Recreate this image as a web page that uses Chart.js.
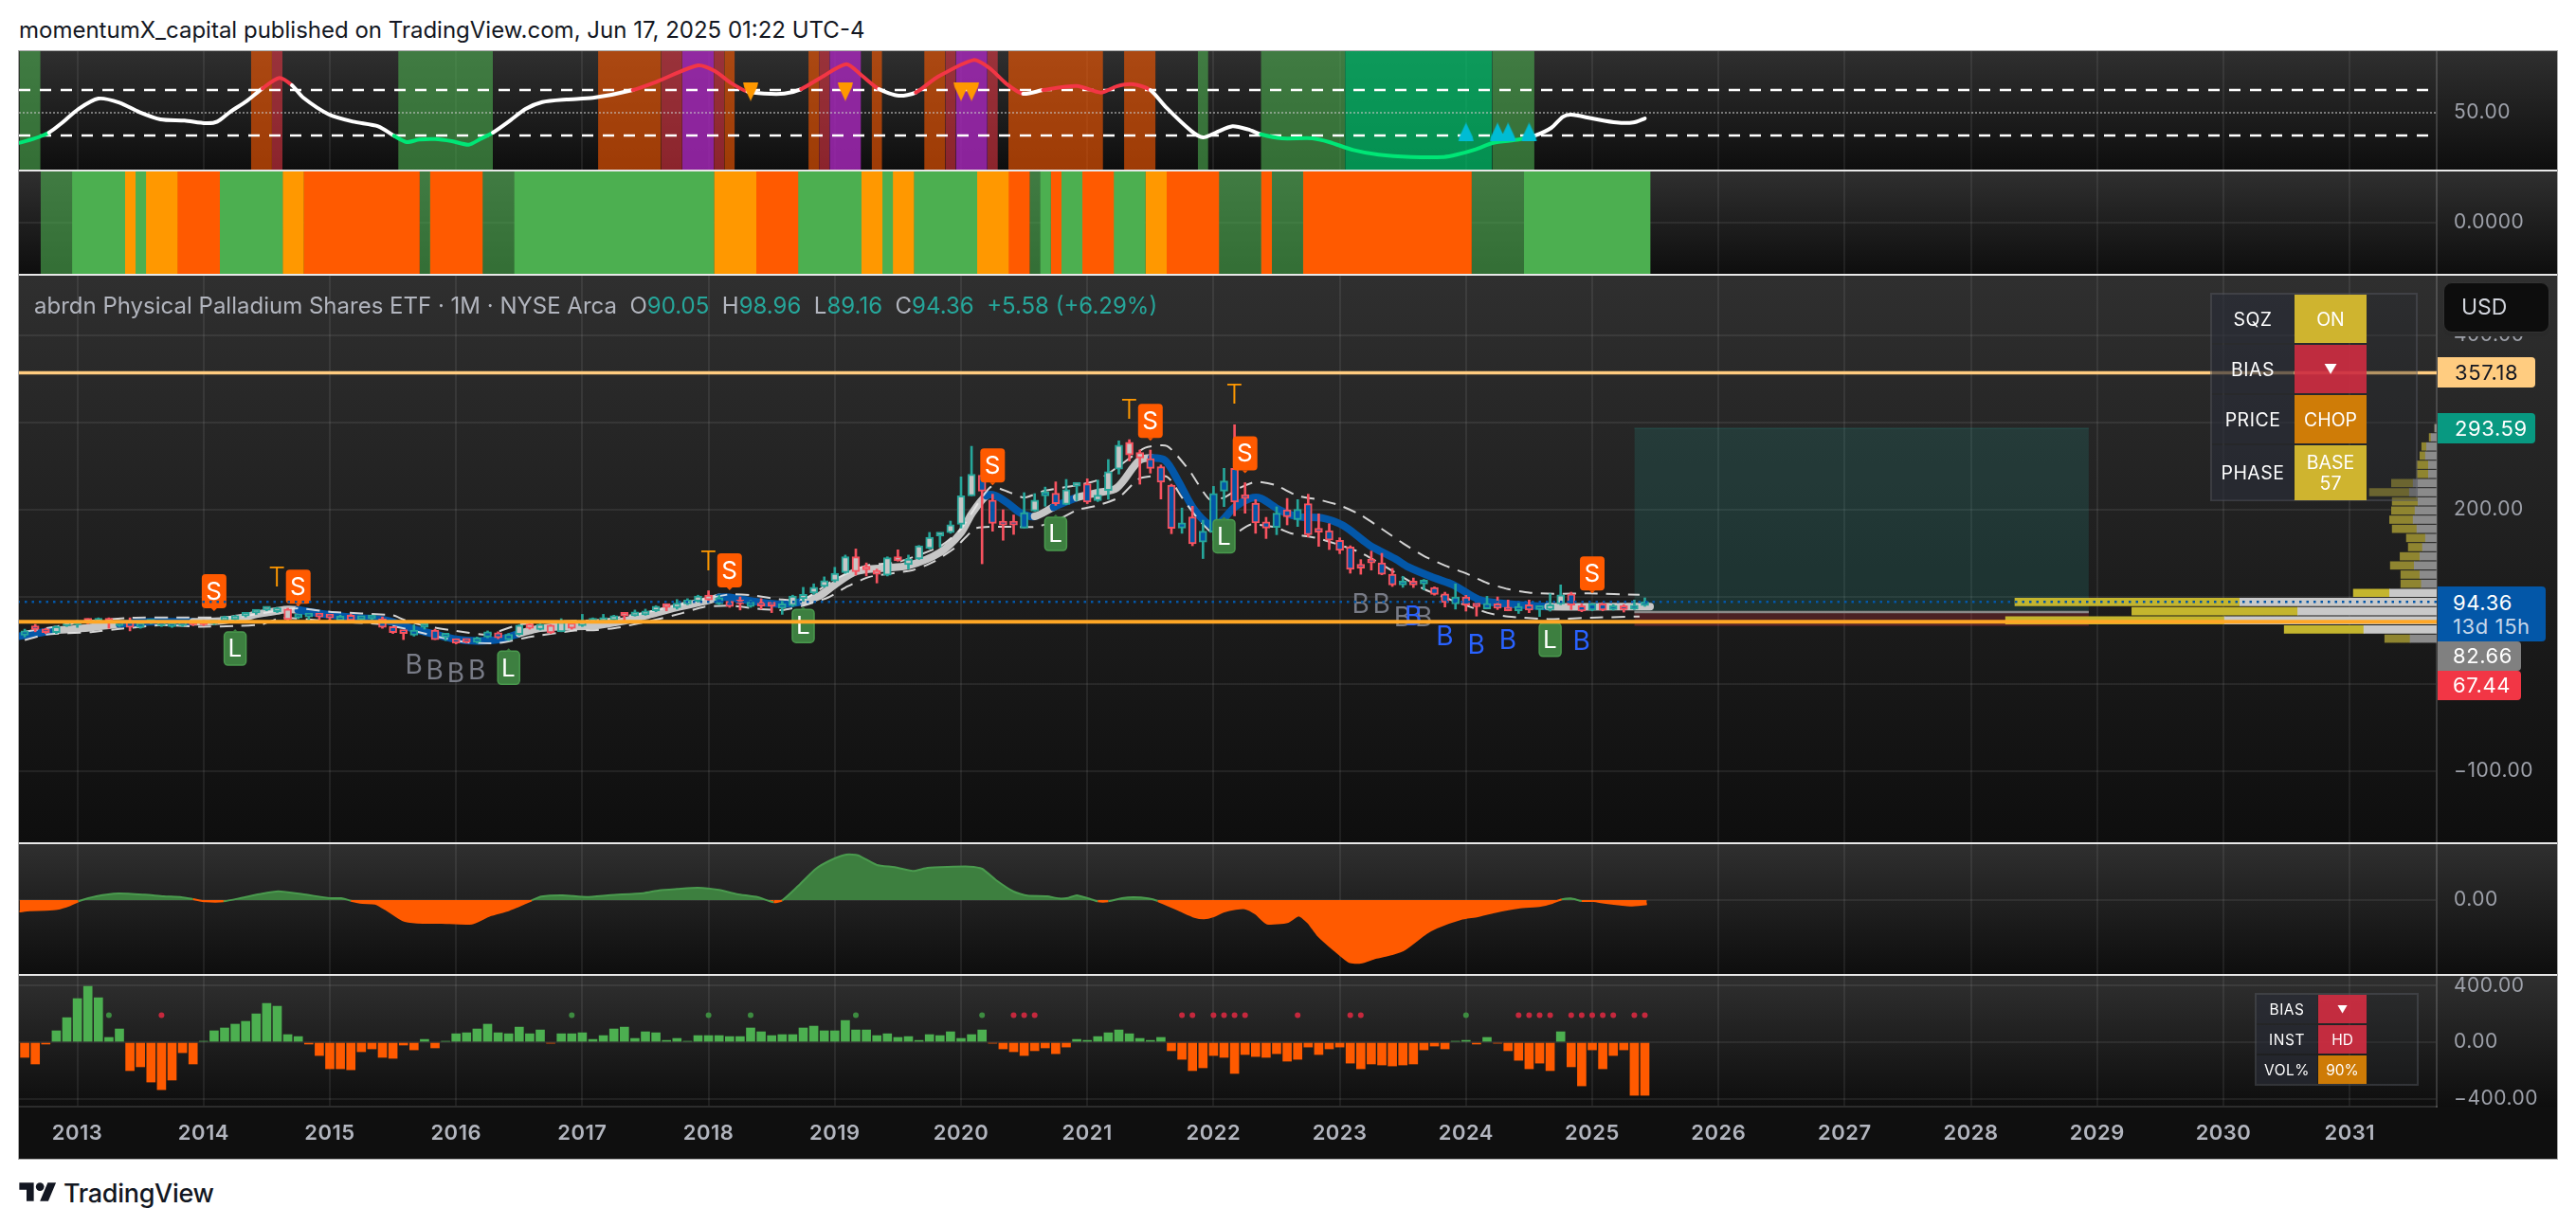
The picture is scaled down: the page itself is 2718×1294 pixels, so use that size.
<!DOCTYPE html>
<html><head><meta charset="utf-8">
<script src="https://cdn.jsdelivr.net/npm/chart.js@4"></script>
<style>
html,body{margin:0;padding:0;background:#fff;width:2718px;height:1294px;overflow:hidden;font-family:Inter,"Noto Sans",sans-serif}
.abs{position:absolute;white-space:nowrap}
.pane{position:absolute;left:20px;width:2678px;background:linear-gradient(#2f2f2f,#0e0e0e)}
canvas{position:absolute;left:20px;display:block}
.tag{position:absolute;left:2572px;font-size:22px;letter-spacing:.6px;padding-left:18px;box-sizing:border-box;border-radius:0 4px 4px 0;line-height:1}
.cell{position:absolute;display:flex;align-items:center;justify-content:center;text-align:center;color:#fff;box-sizing:border-box}
</style></head><body>
<div class="abs" style="left:20px;top:17px;font-size:24px;color:#131722" id="title">momentumX_capital published on TradingView.com, Jun 17, 2025 01:22 UTC-4</div>

<div class="abs" style="left:19px;top:53px;width:2680px;height:1171px;background:#e8e8e8;box-shadow:inset 0 0 0 1px #aaa"></div>
<div class="pane" style="top:54px;height:125px"></div>
<div class="pane" style="top:181px;height:108px"></div>
<div class="pane" style="top:291px;height:598px"></div>
<div class="pane" style="top:891px;height:137px"></div>
<div class="pane" style="top:1030px;height:138px"></div>
<div class="abs" style="left:20px;top:1168px;width:2678px;height:55px;background:#0f0f0f"></div>

<canvas id="c1" width="2678" height="125" style="top:54px"></canvas>
<canvas id="c2" width="2678" height="108" style="top:181px"></canvas>
<canvas id="c3" width="2678" height="598" style="top:291px"></canvas>
<canvas id="c3b" width="2551" height="598" style="top:291px"></canvas>
<canvas id="c4" width="2678" height="137" style="top:891px"></canvas>
<canvas id="c5" width="2678" height="193" style="top:1030px"></canvas>

<div class="abs" style="left:36px;top:308px;font-size:24px;color:#b2b5be" id="legend">abrdn Physical Palladium Shares ETF · 1M · NYSE Arca&nbsp; O<span style="color:#26a69a">90.05</span>&nbsp; H<span style="color:#26a69a">98.96</span>&nbsp; L<span style="color:#26a69a">89.16</span>&nbsp; C<span style="color:#26a69a">94.36</span>&nbsp; <span style="color:#26a69a">+5.58 (+6.29%)</span></div>

<div class="abs" style="left:2578px;top:298px;width:112px;height:53px;background:#0d0d0d;border:1px solid #333;border-radius:9px;box-sizing:border-box;color:#d1d4dc;font-size:23px;line-height:51px;padding-left:18px;box-shadow:0 4px 0 #2a2a2a">USD</div>

<div class="tag" style="top:377px;width:103px;height:32px;line-height:32px;background:#ffcc80;color:#131722">357.18</div>
<div class="tag" style="top:436px;width:103px;height:32px;line-height:32px;background:#089981;color:#fff">293.59</div>
<div class="tag" style="top:619px;width:114px;height:58px;background:#0357a8;color:#fff;padding-top:6px;padding-left:16px"><div style="height:25px">94.36</div><div style="color:#c5d6ea">13d 15h</div></div>
<div class="tag" style="top:677px;width:88px;height:31px;line-height:31px;padding-left:16px;background:#808080;color:#fff">82.66</div>
<div class="tag" style="top:708px;width:88px;height:31px;line-height:31px;padding-left:16px;background:#f23645;color:#fff">67.44</div>

<div class="abs" style="left:2332px;top:309px;width:219px;height:220px;border:2px solid rgba(120,123,134,.28);box-sizing:border-box;background:rgba(40,42,48,.35)"></div>
<div class="cell" style="left:2334px;top:311px;width:86px;height:51px;font-size:19.5px;letter-spacing:.5px;background:rgba(42,46,57,.5)">SQZ</div>
<div class="cell" style="left:2421px;top:311px;width:76px;height:51px;font-size:19.5px;background:rgba(214,186,48,.96)">ON</div>
<div class="cell" style="left:2334px;top:364px;width:86px;height:51px;font-size:19.5px;letter-spacing:.5px;background:rgba(42,46,57,.5)">BIAS</div>
<div class="cell" style="left:2421px;top:364px;width:76px;height:51px;font-size:14px;background:rgba(213,46,66,.88)">▼</div>
<div class="cell" style="left:2334px;top:417px;width:86px;height:51px;font-size:19.5px;letter-spacing:.5px;background:rgba(42,46,57,.5)">PRICE</div>
<div class="cell" style="left:2421px;top:417px;width:76px;height:51px;font-size:19.5px;background:rgba(214,128,6,.96)">CHOP</div>
<div class="cell" style="left:2334px;top:470px;width:86px;height:58px;font-size:19.5px;letter-spacing:.5px;background:rgba(42,46,57,.5)">PHASE</div>
<div class="cell" style="left:2421px;top:470px;width:76px;height:58px;font-size:19.5px;line-height:22px;background:rgba(214,186,48,.96)">BASE<br>57</div>

<div class="abs" style="left:2379px;top:1048px;width:173px;height:98px;border:2px solid rgba(120,123,134,.28);box-sizing:border-box;background:rgba(40,42,48,.3)"></div>
<div class="cell" style="left:2381px;top:1050px;width:64px;height:30px;font-size:15.5px;letter-spacing:.5px;background:rgba(42,46,57,.5)">BIAS</div>
<div class="cell" style="left:2446px;top:1050px;width:51px;height:30px;font-size:11px;background:rgba(213,46,66,.9)">▼</div>
<div class="cell" style="left:2381px;top:1082px;width:64px;height:30px;font-size:15.5px;letter-spacing:.5px;background:rgba(42,46,57,.5)">INST</div>
<div class="cell" style="left:2446px;top:1082px;width:51px;height:30px;font-size:15.5px;background:rgba(213,46,66,.9)">HD</div>
<div class="cell" style="left:2381px;top:1114px;width:64px;height:30px;font-size:15.5px;letter-spacing:.5px;background:rgba(42,46,57,.5)">VOL%</div>
<div class="cell" style="left:2446px;top:1114px;width:51px;height:30px;font-size:15.5px;background:rgba(214,128,6,.96)">90%</div>

<svg class="abs" style="left:20px;top:1246px" width="40" height="24" viewBox="0 2 36 22"><path fill="#131722" d="M14 22H7V11H0V4h14v18zM28 22h-8l7.5-18h8L28 22z"/><circle fill="#131722" cx="20" cy="8" r="4"/></svg>
<div class="abs" style="left:67px;top:1243px;font-size:27px;font-weight:500;color:#131722;letter-spacing:-.3px">TradingView</div>

<script>
// ---------- shared time axis ----------
const firstBar = -5;
const yearLabels = ['2013','2014','2015','2016','2017','2018','2019','2020','2021','2022','2023','2024','2025','2026','2027','2028','2029','2030','2031'];
const yearTicks = [0,12,24,36,48,60,72,84,96,108,120,132,144,156,168,180,192,204,216];

// ---------- main pane: monthly OHLC, Aug 2012 .. Jun 2025 ----------
const candleOpen = [56,64,63,59,67,68,73,71,75,67,72,65,70,67,66,67,70,72,69,73,74,78,81.5,85,83,86,76,77,78,77,73,79,74,75,75,66,59,56,65,62,54,52,49,48,54,59,51,
57,69,62.5,67.6,60,70,67,71,72,73.4,79.5,78.5,79.5,84,89,87.5,92,95,102,92,95,93,89,94,91,87,90,98,104.5,112,118.3,127.7,146,132,127,124.8,146,137,143.5,155.6,170,173.7,
183.3,216,239.5,211,183,183,179,198.5,216,219,206,227,229.7,210.5,222,246.7,277.5,265.6,258.7,249.3,228.3,179,191.7,163,174.3,221.4,247.5,214,207.6,186.2,179.7,200,188.8,207,176,176,165,
157.2,133.6,139.5,139,126,113.8,115,114.8,110.9,103.6,92,100,89,86.2,92,86,84,90.9,85.5,85.5,92,103.6,89.8,84.8,92,85.5,89.8,86,90.05];
const candleHigh = [63,68.5,64,67,70,73,75,76,76,72,76,71,72,72,71,72,72,73,72,78,79,82,85,86,88,87,78,78,79,78,79,80,76,78,77,66,59,68,70,63,57,52,50,54,61,60,58,
68,70,70,68,75,71,80,76,80,79,80,85,86,90,92,97,98,102,107,102,95,100,96,98,93,95,102,111,115,123,134,148,155,139,132,146,154,148,159,174,172,187,
237.7,272.8,240,217.8,200,194,219.6,218.5,226,232,234.8,231,235.5,234,257.6,279,280.4,268.5,268.5,251.4,229.3,202,204,188,226.8,247.5,297.5,231,211.6,191.3,203.3,213,211.6,217.8,195.3,184,167.8,
158.7,142.8,152.5,150,132.6,123.5,121.7,120,111.5,105.4,115,101.8,92,100.7,100,96.4,93.5,96.4,89.5,103.6,113.8,105.4,92,92.7,93.5,91.3,91.3,96.4,98.96];
const candleLow = [54,60,58,58,66,65,69,70,64,66,61,64,69,66,65,66,67,67,68,72,73,77,80,84,82,73,75,73,74,72,72,72,72,74,64,58,51,55,63,51,50,46,47,47,53,52,50,
56,63,62,58,60,63,66,70,70,72,72,78,79,83,84,86,91,94,96,91,88,85,88,86,82,80,89,95,103,111,117,127,125,124,116,124,141,132,143,155,157,173,
179,216,138,175.4,165,171.7,179,198,204,205,206,210.5,207,209.4,212,241,256,229.3,242,212.3,172.5,173,158.7,144,165,203.6,193,196,173,167,171.4,182.6,180.8,168.8,158,154.3,149.6,
127.2,126,130.8,125.4,112,111,110.8,108,102,88.4,86,83.7,78,86.2,85.5,84,81,81.9,77.5,83.7,91,85.5,83,84,84,84.8,82.6,85.5,89.16];
const candleClose = [61,62.5,59,66,69,70,71,74,71,71,65,70,71,70,70,71,68,68,71,76,78,81,82.5,85.5,87,74,77,77.5,77,76,78,73,75,76,65,59,58,62,65.5,51,54.5,47,48,53,60,53,57,
67.5,64,68.6,58.9,71,64,73,74,76,78.5,78,80.6,83.5,89.3,88,93,96,101,96.6,99,89,92,94,89.5,89.5,92,101,103,111,118.7,127,146,129,131,126,145,141.5,143.5,158.5,168.3,172,182.8,
216,240.6,221.4,184.4,182.5,182.5,196.7,211,216.7,207,223,227.5,208.7,216.7,243.8,274,263,259.4,247.5,231.5,178.6,185,161,175.4,218.8,233,208.7,213,184.8,179,196,192,200.4,171.4,174.3,165,153.3,
131.5,133,139,126,113.8,118,113.8,115.5,102.9,93.5,100,90.6,88.6,92.7,87,84,89,84.8,89,91,102.5,90.6,83.7,92,84.8,89.8,85.5,88.4,94.36];

const greyRegimes = [[-2,3],[11,20],[42,60],[68,85],[91,91],[94,95],[97,101],[140,141]];

const ribbonBars = [-5.5,-4,-3,-2,-1,0,1,2,3,4,5,6,7,8,9,10,11,12,13,14,15,16,17,18,19,20,21,22,23,24,25,26,27,28,29,30,31,32,33,34,35,36,37,38,39,40,41,42,43,44,46,49,52,54,57,60,61,62,64,67,69,70.5,72,74,76.5,79,82,84,85,86.4,87.3,88.5,89.7,91,92.8,95,97,98.8,100.9,102.1,103.4,104.6,106.1,107.6,108.5,110,111.5,112.5,114.3,116,118.3,120.3,122.2,123,125.3,126.5,129,130.8,133.2,135.3,139.8,149.5];
const ribbonValues = [55,58,60,62,62.5,63.5,64.5,66,67.5,69,70,71,71.5,71.5,71.5,71.5,71.5,71.5,72,73,75,77,80,82,84,85.5,85,83,81,79.5,78,76.5,75.5,75,74,71,67,63,60,57,54,51.5,50,49.5,50,51,54,58,61.4,64,65.8,66.9,72.5,78.5,88,96,99.5,99.5,95.5,91.5,95,101,114,129,133,136,151,173.7,195,216,216,207,196,192.4,203,214,219.6,225,256,259.4,256.5,234,201.4,183,184,203,213,213,199.6,192,190.6,182,165,158,143.5,134.4,121.7,113.8,97,92.7,89,89];

const upperBars = [-5,-2,1,5,10,15,19,21,24,30,31,33,36,39,42,46,50,54,58,62,64,67,69,72,75,78,82,84,86.8,88.6,90,92,95,97,99,101.5,103.6,105.7,107.6,109,110.5,112,113.8,116,118,120,122,124,126,128,130,132,134,136,138,140.5,143.6,148.5];
const upperValues = [60,66,72,76,76.5,77,84,87,83,78.8,74,66.8,61,57,68,72,74,82,93,103,102,97,97,120,136,140,158,178,226,220,214,222,228,234,250,271,273,245,212,214,225,232,228.6,216,211.6,205,194,178,161.6,147,136,127,116,109,105,103.6,104,102.5];
const lowerBars = [-5,-3,1.3,3.4,8,11.6,15.5,17.6,19.4,24,29,31,34,37,40,43,47.3,49.4,51.5,55.4,57.5,59.6,62,65,67,69,71.4,73.2,75.3,79.5,81.5,83.5,85.5,91,93,95,97,99,101,103.6,105,106.5,108,110,111.5,113.8,115.5,118,122,128,134,136,139.8,144.5,148.5];
const lowerValues = [50.6,56.7,59.6,62.5,67.6,65.8,66.8,68.7,76,72,68.7,64,55,48,47,54,61.4,62,65,75,81.4,88.6,90,86,85,90,99.5,112,123,131,141,157,179,180.4,187,199.6,205,214,236,237.7,214,190,172.5,172.5,183,180,172.5,167,150.7,109,81.9,77.5,74.6,76.4,77.5];

const sellBars = [13,21,62,87,102,111,144];
const sellTips = [83.7,89,107.6,228,279,242,104];
const longBars = [15,41,69,93,109,140];
const longTips = [63,41,89,194.5,192,73];
const topBars = [19,60,100,110];
const topValues = [121,139.7,314,331];
const greyBBars = [32,34,36,38,122,124,126,128];
const greyBValues = [20.6,15,11,15,91,91,76,75];
const blueBBars = [127,130,133,136,143];
const blueBValues = [77,54,44,49,48];

const resistance = 357.18, lastPrice = 94.36, supportLine = 71.6;
const targetPrice = 293.59, entryPrice = 82.66, stopPrice = 67.44;
const positionBars = [148,191.2];
const priceTicks = [-100,0,100,200,300,400];

// ---------- volume profile (right-anchored) ----------
const profilePrices = [293.6,283.1,272.6,262.1,251.6,241.1,230.6,220.1,209.6,199.1,188.6,178.1,167.6,157.1,146.6,136.1,125.6,115.1,104.6,94.1,83.6,73.1,62.6,52.1];
const profileGrey = [5,15,27,30,22,22,63,73,50,58,63,53,30,38,45,60,45,41,126,527,372,568,195,71];
const profileGold = [0,5,13,15,31,31,58,107,69,63,63,66,51,38,53,64,51,55,97,602,444,586,213,68];

// ---------- top oscillator pane ----------
const oscBars = [-5.5,-4.2,-2.7,-1.5,0.1,2,4,5.9,7.9,10.2,12.2,13.3,14.5,16.1,17.6,19.2,20.4,21.5,23.9,26.2,28.6,30.1,31.3,32.5,34,35.6,37.2,38.3,39.5,41,42.6,44.2,46.5,49,52.8,55.1,59,60.6,62.1,63.7,65.3,67.2,68.8,70.7,73.1,74.6,76.2,78.1,79.7,81.7,85.2,86.7,88.3,89.9,91.8,95,97.3,98.8,100.4,102,103.5,105.9,107,108.2,109.8,111.3,112.5,114.5,117.4,119,121.3,123.7,126.8,129.9,131.1,133,134.6,137,138.5,140.1,141.2,142,144,146.3,147.9,149];
const oscValues = [23.6,26.9,32.5,40.8,53.3,62.5,58.9,50.6,44.2,43.1,40.8,42.2,50.6,60.3,71.4,80.6,74.2,63.1,48.6,42.2,38.1,29.7,24.2,26.4,26.9,25,21.9,26.9,32.5,42.2,53.3,59.4,61.7,63.1,70,77.5,91.7,86.7,76.4,68.6,66.9,66.9,70.8,81.1,92.8,82.5,70.8,65,67.8,81.1,96.4,89.4,75.6,66.7,70,73.6,67.8,73.3,75,70,54.7,33.9,28.3,32.5,38.1,35.3,31.1,27.5,27.5,24.2,17.2,13.1,11.1,11.1,13.1,18.1,23.6,26.4,29.7,36.7,46.4,48.3,45,41.4,41.4,45];
const bandRuns = [['g',-5,-4],['o',17,18],['r',19,19],['g',31,39],['o',50,55],['r',56,57],['p',58,60],['r',61,61],['o',62,62],['o',70,70],['r',71,71],['p',72,74],['o',76,76],['o',81,82],['r',83,83],['p',84,86],['r',87,87],['o',89,97],['o',100,102],['g',107,107],['g',113,120],['G',121,134],['g',135,138]];
const sellArrowBars = [64,73,84,85];
const sellArrowValue = 68.75;
const buyArrowBars = [132,135,136,138];
const buyArrowValue = 33;

// ---------- squeeze pane ----------
const squeezeRuns = [['d',-3,-1],['g',0,4],['y',5,5],['g',6,6],['y',7,9],['o',10,13],['g',14,19],['y',20,21],['o',22,32],['d',33,33],['o',34,38],['d',39,41],['g',42,60],['y',61,64],['o',65,68],['g',69,74],['y',75,76],['g',77,77],['y',78,79],['g',80,85],['y',86,88],['o',89,90],['d',91,91],['g',92,92],['o',93,93],['g',94,95],['o',96,98],['g',99,101],['y',102,103],['o',104,108],['d',109,112],['o',113,113],['d',114,116],['o',117,132],['d',133,137],['g',138,149]];

// ---------- area pane ----------
const areaBars = [-5.5,-4.5,-3,-1.9,-0.7,0.1,1.8,3.9,6.4,8.2,9.9,11,12.2,13.9,15.6,17.3,19.1,21.4,24,25.1,26,27.1,28.3,29.4,30.9,32.3,34.6,37.5,39.2,40.9,41.8,43.2,44.1,46.1,48.4,50.7,53.8,55.3,57,59,61,62.7,64.7,66.2,67,68.5,70.2,71.6,73.1,74.2,76,77.7,79.4,80.8,82.7,84.8,86,87.3,89,90.3,92.2,93.3,94.2,95,96.1,97,98,99.3,100.4,101.8,102.7,104.8,106.2,107.1,108,109,110.1,111,112,113.1,115.1,116.1,117,117.9,119.5,120.9,122,123.4,125,126.2,128.2,129.2,131.5,133.1,134.7,137,139.1,140.2,141.1,142,143,144.1,145.3,147.6,149.2];
const areaValues = [-12,-10.7,-10.3,-9.3,-5.3,-1.3,4,7,5.7,4,3,1,-1.3,-1.3,2.3,6.3,9.3,6.3,2,2,-0.7,-3,-3.7,-10.3,-21,-23.7,-24,-24.7,-16.3,-11,-7,-0.3,3.7,5,3.3,5.3,7.3,10.3,11.7,13,10.7,6.3,3,-2.3,-0.3,14.7,33,42,48,47.3,37,34.7,30.7,34,35,35.3,33,21.3,9,4.7,4,1.7,2.3,5,1.7,-1.3,-1.3,2,3,1.7,-1,-11,-17.7,-19.3,-17,-12,-9.3,-8.7,-14.3,-24.7,-23,-16.3,-23.7,-37,-53,-65.3,-66,-61,-57,-52,-35.3,-29,-20,-17,-12.7,-8,-6,-3,0.7,1.7,-1,-1,-3,-5.7,-4.3];

// ---------- histogram pane ----------
const histValues = [-107,-154,-13,81,174,309,396,315,34,94,-201,-174,-282,-336,-268,-74,-154,7,81,101,128,148,201,275,255,54,40,-13,-94,-188,-188,-195,-67,-47,-107,-114,-20,-54,20,-40,7,60,67,94,128,67,60,107,60,87,-7,60,60,67,20,47,94,107,27,74,67,13,27,7,47,47,47,40,40,101,74,47,54,54,101,114,81,81,154,87,87,47,60,34,40,13,54,47,74,27,54,87,-7,-47,-67,-94,-60,-40,-81,-34,20,13,40,67,87,60,27,13,34,-60,-121,-201,-181,-94,-107,-221,-87,-101,-107,-81,-134,-121,-34,-87,-47,-34,-148,-188,-154,-161,-168,-161,-154,-54,-27,-47,7,13,-13,34,-7,-60,-128,-188,-148,-201,74,-174,-309,-54,-188,-94,-54,-376,-376];
const dotLevel = 192;
const greenDotBars = [3,47,60,64,74,86,132];
const redDotBars = [8,89,90,91,105,106,108,109,110,111,116,121,122,137,138,139,140,142,143,144,145,146,148,149];

// ---------- helpers ----------
const TEAL='#26a69a', RED='#f7525f', BLUE='#0357a8', GREY='#c6c6c6', ORANGE='#ff5a00';
const barsIdx = candleOpen.map((_,k)=>firstBar+k);
const isGrey = i => greyRegimes.some(r=>i>=r[0]&&i<=r[1]);
const pts = (xs,ys)=>xs.map((x,k)=>({x,y:ys[k]}));
const gridCol='rgba(255,255,255,.075)';
const xMin=-5.55, xMax=224.27;

Chart.register({id:'spacing',beforeDraw(ch){ch.ctx.letterSpacing='0.5px';}});

function xAxis(showLabels){
  return {type:'linear',min:xMin,max:xMax,offset:false,
    grid:{color:gridCol,lineWidth:2,drawTicks:false,tickLength:0,offset:false},
    border:{display:showLabels,color:'#2c2c2c',width:2},
    afterBuildTicks:s=>{s.ticks=yearTicks.map(v=>({value:v}));},
    afterFit:s=>{s.height=showLabels?55:0;s.paddingLeft=0;s.paddingRight=0;},
    ticks:{display:showLabels,autoSkip:false,maxRotation:0,minRotation:0,padding:15,color:'#b2b5be',font:{family:'Inter',size:22,weight:'600'},
      callback:v=>yearLabels[yearTicks.indexOf(v)]}};
}
function yAxis(min,max,ticks,dec,showGrid){
  return {type:'linear',position:'right',min,max,
    grid:{color:ctx=>showGrid?gridCol:'transparent',lineWidth:2,drawTicks:false,tickLength:0},
    border:{display:true,color:'rgba(255,255,255,.16)',width:2},
    afterBuildTicks:s=>{s.ticks=ticks.map(v=>({value:v}));},
    afterFit:s=>{s.width=127;s.paddingTop=0;s.paddingBottom=0;},
    ticks:{padding:18,color:'#9ea1aa',autoSkip:false,font:{family:'Inter',size:21},
      callback:v=>v.toFixed(dec).replace('-','\u2212')}};
}
const base={responsive:false,animation:false,events:[],layout:{padding:0,autoPadding:false},plugins:{legend:{display:false},tooltip:{enabled:false}}};
function mk(id,datasets,y,xs,extra){
  return new Chart(document.getElementById(id),{type:'bar',data:{datasets},plugins:extra||[],
    options:{...base,scales:{x:xs||xAxis(false),y}}});
}
function spanLine(v,col,w,dash,order){
  return {type:'line',data:[{x:xMin,y:v},{x:xMax,y:v}],borderColor:col,borderWidth:w,borderDash:dash||[],pointRadius:0,order:order||1};
}
// one filled block for every run of same-state months
function runBlocks(runs,colors,lo,hi,order,overlap){
  return runs.map(r=>({type:'line',data:[{x:Math.max(r[1]-.5,xMin),y:lo},{x:r[2]+.5+(overlap||0),y:lo}],fill:{target:{value:hi},above:colors[r[0]],below:colors[r[0]]},borderWidth:0,pointRadius:0,order:order}));
}
function arrow(down,col){
  const c=document.createElement('canvas');c.width=18;c.height=20;const g=c.getContext('2d');g.fillStyle=col;g.beginPath();
  if(down){g.moveTo(1,0);g.lineTo(17,0);g.lineTo(16,5);g.lineTo(9,20);g.lineTo(2,5);}
  else{g.moveTo(9,0);g.lineTo(16,15);g.lineTo(17,20);g.lineTo(1,20);g.lineTo(2,15);}
  g.closePath();g.fill();return c;
}

// ---------- pane 1 ----------
const bandCols={g:'rgba(76,175,80,.6)',o:'rgba(255,90,0,.6)',r:'rgba(242,54,69,.55)',p:'rgba(170,40,190,.8)',G:'rgba(0,200,110,.7)'};
mk('c1',[
  ...runBlocks(bandRuns,bandCols,0,104.2,9),
  spanLine(70,'#fff',2.5,[12,10],5),spanLine(30,'#fff',2.5,[12,10],5),spanLine(50,'rgba(200,200,200,.55)',2,[2,2],6),
  {type:'line',data:pts(oscBars,oscValues),borderWidth:4,pointRadius:0,tension:.25,order:3,borderCapStyle:'round',borderJoinStyle:'round',
    segment:{borderColor:c=>{const m=(c.p0.parsed.y+c.p1.parsed.y)/2;return m>=70?'#f23645':m<=30?'#00e676':'#ffffff';}}},
  {type:'line',showLine:false,data:sellArrowBars.map(x=>({x,y:sellArrowValue})),pointStyle:arrow(true,'#ff9800'),pointRadius:10,order:1},
  {type:'line',showLine:false,data:buyArrowBars.map(x=>({x,y:buyArrowValue})),pointStyle:arrow(false,'#00bcd4'),pointRadius:10,order:1}
],yAxis(0,104.2,[50],2,false));

// ---------- pane 2 ----------
mk('c2',runBlocks(squeezeRuns,{d:'rgba(76,175,80,.6)',g:'#4caf50',y:'#ff9800',o:ORANGE},-1,1,1,.05),yAxis(-1,1,[0],4,true));

// ---------- pane 3 ----------
const tagPlugin={id:'tags',afterDatasetsDraw(ch){
  const g=ch.ctx,X=ch.scales.x,Y=ch.scales.y;g.save();g.textAlign='center';g.textBaseline='middle';
  const font=(s,w)=>`${w||400} ${s}px Inter`;
  const label=(list,vals,col,w,h,txt,up,edge)=>{list.forEach((b,k)=>{
    const px=X.getPixelForValue(b),tip=Y.getPixelForValue(vals[k]);
    const top=up?tip+3:tip-3-h;
    g.fillStyle=col;g.beginPath();g.roundRect(px-w/2,top,w,h,4);g.fill();
    if(edge){g.strokeStyle=edge;g.lineWidth=1.5;g.stroke();}
    g.beginPath();
    if(up){g.moveTo(px-3,tip+3);g.lineTo(px,tip);g.lineTo(px+3,tip+3);}
    else{g.moveTo(px-3,tip-3);g.lineTo(px,tip);g.lineTo(px+3,tip-3);}
    g.fill();g.fillStyle='#fff';g.font=font(26);g.fillText(txt,px,top+h/2+1);});};
  const letter=(list,vals,col,txt,w)=>{g.font=font(28,w);g.fillStyle=col;list.forEach((b,k)=>g.fillText(txt,X.getPixelForValue(b),Y.getPixelForValue(vals[k])));};
  letter(greyBBars,greyBValues,'#787b86','B');
  letter(blueBBars,blueBValues,'#2962ff','B');
  letter(topBars,topValues,'#ff9800','T',300);
  label(sellBars,sellTips,ORANGE,26,36,'S',false);
  label(longBars,longTips,'#3d7f40',23,35,'L',true,'#4a9a4e');
  g.restore();
}};
const segCol=c=>isGrey(Math.round(c.p0.parsed.x))?GREY:BLUE;
mk('c3',[
  {type:'line',data:[{x:positionBars[0],y:targetPrice},{x:positionBars[1],y:targetPrice}],fill:{target:{value:entryPrice},above:'rgba(38,166,154,.17)',below:'rgba(38,166,154,.17)'},borderColor:'rgba(38,166,154,.12)',borderWidth:2,pointRadius:0,order:12},
  {type:'line',data:[{x:positionBars[0],y:stopPrice},{x:positionBars[1],y:stopPrice}],fill:{target:{value:entryPrice},above:'rgba(242,54,69,.22)',below:'rgba(242,54,69,.22)'},borderColor:'rgba(242,54,69,.15)',borderWidth:2,pointRadius:0,order:12},
  {type:'line',data:[{x:positionBars[0],y:entryPrice},{x:positionBars[1],y:entryPrice}],borderColor:'#8a8a8a',borderWidth:2.5,pointRadius:0,order:11},
  {type:'line',data:pts(ribbonBars,ribbonValues),borderWidth:8,pointRadius:0,tension:.3,borderCapStyle:'round',borderJoinStyle:'round',order:8,segment:{borderColor:segCol}},
  {type:'line',data:pts(upperBars,upperValues),borderColor:'rgba(232,232,232,.9)',borderWidth:2,borderDash:[14,9],pointRadius:0,tension:.2,order:7},
  {type:'line',data:pts(lowerBars,lowerValues),borderColor:'rgba(232,232,232,.9)',borderWidth:2,borderDash:[14,9],pointRadius:0,tension:.2,order:7},
  {data:barsIdx.map((x,k)=>({x,y:[candleLow[k],candleHigh[k]]})),backgroundColor:barsIdx.map((x,k)=>candleClose[k]>=candleOpen[k]?TEAL:RED),barThickness:2,grouped:false,order:5},
  {data:barsIdx.map((x,k)=>({x,y:[candleOpen[k],candleClose[k]]})),backgroundColor:barsIdx.map(x=>isGrey(x)?GREY:BLUE),borderColor:barsIdx.map((x,k)=>candleClose[k]>=candleOpen[k]?TEAL:RED),borderWidth:2,borderSkipped:false,barThickness:8,grouped:false,minBarLength:4,order:4}
],yAxis(-181.5,468.5,priceTicks,2,true),xAxis(false),[tagPlugin]);

// ---------- volume profile + horizontal levels overlay ----------
const vpMax=6472;
const vpDim=k=>!(k>=18&&k<=22);
new Chart(document.getElementById('c3b'),{type:'bar',data:{datasets:[
  {data:profilePrices.map((p,k)=>({y:p,x:[0,profileGrey[k]]})),backgroundColor:profilePrices.map((p,k)=>vpDim(k)?'#8b8b8b':'#c9c9c9'),barThickness:8,grouped:false,order:5},
  {data:profilePrices.map((p,k)=>({y:p,x:[profileGrey[k],profileGrey[k]+profileGold[k]]})),backgroundColor:profilePrices.map((p,k)=>vpDim(k)?'#8f8530':'#c4b52e'),barThickness:8,grouped:false,order:5},
  {type:'line',data:[{x:0,y:lastPrice},{x:vpMax,y:lastPrice}],borderColor:BLUE,borderWidth:2.5,borderDash:[2.5,5],pointRadius:0,order:2},
  {type:'line',data:[{x:0,y:supportLine},{x:vpMax,y:supportLine}],borderColor:'#ffa726',borderWidth:4,pointRadius:0,order:1},
  {type:'line',data:[{x:0,y:resistance},{x:vpMax,y:resistance}],borderColor:'#ffcc80',borderWidth:3.5,pointRadius:0,order:1}
]},options:{...base,indexAxis:'y',scales:{
  x:{type:'linear',reverse:true,min:0,max:vpMax,display:false,offset:false},
  y:{type:'linear',min:-181.5,max:468.5,display:false,offset:false}}}});

// ---------- pane 4 ----------
mk('c4',[{type:'line',data:pts(areaBars,areaValues),fill:{target:{value:0},above:'#3d7f3f',below:ORANGE},borderWidth:2,pointRadius:0,tension:.2,
  segment:{borderColor:c=>(c.p0.parsed.y+c.p1.parsed.y)/2>=0?'#4a9a4e':ORANGE}}],yAxis(-78,59,[0],2,true));

// ---------- pane 5 ----------
mk('c5',[
  {data:barsIdx.map((x,k)=>({x,y:histValues[k]})),backgroundColor:histValues.map(v=>v>=0?'#4caf50':ORANGE),barThickness:9,grouped:false,order:3},
  {type:'line',showLine:false,data:greenDotBars.map(x=>({x,y:dotLevel})),pointRadius:3,pointBackgroundColor:'#3d8b40',pointBorderWidth:0,order:1},
  {type:'line',showLine:false,data:redDotBars.map(x=>({x,y:dotLevel})),pointRadius:3,pointBackgroundColor:'#c5283d',pointBorderWidth:0,order:1}
],yAxis(-456,470,[-400,0,400],2,true),xAxis(true));
</script>
</body></html>
